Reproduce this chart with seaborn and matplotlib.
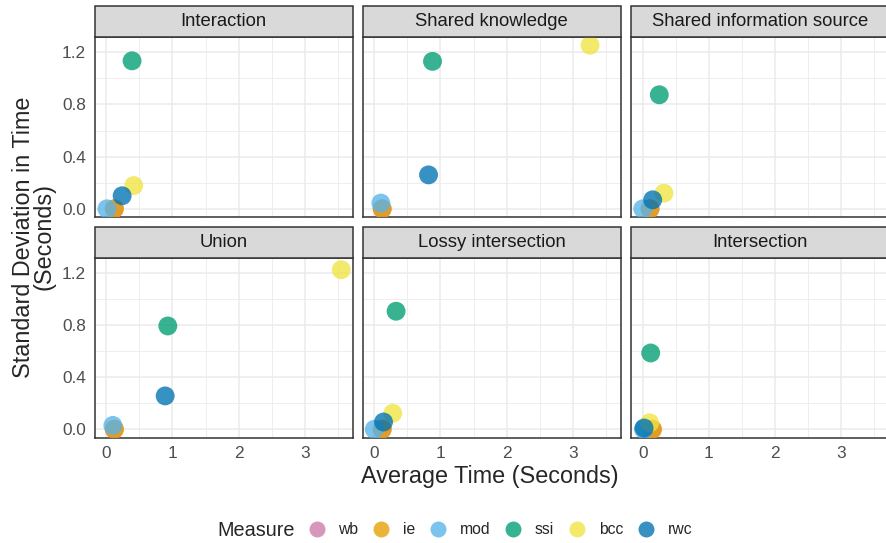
import matplotlib
matplotlib.use("Agg")
import matplotlib.pyplot as plt
from matplotlib.patches import Rectangle
from matplotlib.lines import Line2D
from matplotlib.ticker import MultipleLocator
import numpy as np
import pandas as pd
import seaborn as sns

# ---- data -------------------------------------------------------------
facets = ["Interaction", "Shared knowledge", "Shared information source",
          "Union", "Lossy intersection", "Intersection"]
measures = ["wb", "ie", "mod", "ssi", "bcc", "rwc"]
colors = ["#CC79A7", "#E69F00", "#56B4E9", "#009E73", "#F0E442", "#0072B2"]

# average time (s) per facet, one list per measure
wb_avg = [0.12, 0.12, 0.11, 0.12, 0.12, 0.14]
ie_avg = [0.125, 0.12, 0.11, 0.125, 0.12, 0.15]
mod_avg = [0.01, 0.10, 0.0, 0.10, 0.0, 0.01]
ssi_avg = [0.39, 0.88, 0.25, 0.93, 0.33, 0.12]
bcc_avg = [0.415, 3.26, 0.32, 3.55, 0.28, 0.105]
rwc_avg = [0.24, 0.82, 0.15, 0.89, 0.14, 0.02]

# standard deviation of time (s) per facet
wb_sd = [0.0, 0.0, 0.0, 0.0, 0.0, 0.0]
ie_sd = [0.0, 0.0, 0.0, 0.0, 0.0, 0.0]
mod_sd = [0.0, 0.044, 0.0, 0.03, 0.0, 0.0]
ssi_sd = [1.134, 1.13, 0.874, 0.792, 0.905, 0.585]
bcc_sd = [0.178, 1.254, 0.12, 1.223, 0.123, 0.05]
rwc_sd = [0.10, 0.26, 0.069, 0.256, 0.056, 0.01]

x_ticks = [0, 1, 2, 3]
y_ticks = [0.0, 0.4, 0.8, 1.2]

avg_lists = [wb_avg, ie_avg, mod_avg, ssi_avg, bcc_avg, rwc_avg]
sd_lists = [wb_sd, ie_sd, mod_sd, ssi_sd, bcc_sd, rwc_sd]
rows = []
for m, av, sd in zip(measures, avg_lists, sd_lists):
    for f, a, s in zip(facets, av, sd):
        rows.append({"Measure": m, "Facet": f, "avg": a, "sd": s})
df = pd.DataFrame(rows)

# ---- style ------------------------------------------------------------
sns.set_style("white")
plt.rcParams["font.family"] = ["Liberation Sans", "DejaVu Sans"]
palette = dict(zip(measures, colors))

W, H = 886, 543
fig = plt.figure(figsize=(W / 100, H / 100), dpi=100)

col_left = [94.5, 362.5, 631]
panel_w = 258.5
row_top = [37, 257.5]
panel_h = 180
strip_h = 30.5

def pad(lo, hi, frac=0.05):
    r = hi - lo
    return lo - frac * r, hi + frac * r

xlim = pad(df["avg"].min(), df["avg"].max())
ylim = pad(df["sd"].min(), df["sd"].max())

border = "#333333"
grid_c = "#EBEBEB"

for i, facet in enumerate(facets):
    r, c = divmod(i, 3)
    left = col_left[c] / W
    bottom = 1 - (row_top[r] + panel_h) / H
    ax = fig.add_axes([left, bottom, panel_w / W, panel_h / H])
    sub = df[df["Facet"] == facet]
    sns.scatterplot(data=sub, x="avg", y="sd", hue="Measure",
                    hue_order=measures, palette=palette, s=185,
                    alpha=0.78, linewidth=0, legend=False, ax=ax, zorder=3)
    ax.set_xlim(*xlim)
    ax.set_ylim(*ylim)
    ax.set_xticks(x_ticks)
    ax.set_yticks(y_ticks)
    ax.xaxis.set_minor_locator(MultipleLocator(0.5))
    ax.yaxis.set_minor_locator(MultipleLocator(0.2))
    ax.grid(True, which="major", color=grid_c, lw=1.1, zorder=0)
    ax.grid(True, which="minor", color=grid_c, lw=0.6, zorder=0)
    ax.set_axisbelow(True)
    for sp in ax.spines.values():
        sp.set_color(border)
        sp.set_linewidth(1.1)
    ax.tick_params(which="minor", length=0)
    ax.tick_params(which="major", length=3.8, width=0.9, color=border,
                   labelcolor="#4D4D4D", labelsize=12.4, pad=2.2)
    ax.set_xlabel("")
    ax.set_ylabel("")
    if c != 0:
        ax.tick_params(axis="y", length=0, labelleft=False)
    else:
        ax.set_yticklabels([f"{v:.1f}" for v in y_ticks])
    if r != 1:
        ax.tick_params(axis="x", length=0, labelbottom=False)
    # facet strip
    sh = strip_h / panel_h
    ax.add_patch(Rectangle((0, 1), 1, sh, transform=ax.transAxes,
                           facecolor="#D9D9D9", edgecolor=border, lw=1.1,
                           clip_on=False, zorder=5))
    ax.text(0.5, 1 + sh / 2, facet, transform=ax.transAxes, ha="center",
            va="center", fontsize=13.3, color="#1A1A1A", zorder=6)

# axis titles
fig.text(490 / W, 1 - 476 / H, "Average Time (Seconds)", ha="center",
         va="center", fontsize=16.8)
fig.text(34 / W, 1 - 237 / H, "Standard Deviation in Time\n(Seconds)",
         ha="center", va="center", rotation=90, fontsize=16.8,
         linespacing=0.88)

# legend
fig.text(217 / W, 1 - 530 / H, "Measure", ha="left", va="center",
         fontsize=14.3)
handles = [Line2D([], [], ls="", marker="o", markersize=11.5,
                  markerfacecolor=col, markeredgewidth=0, alpha=0.78)
           for col in colors]
fig.legend(handles, measures, loc="center left",
           bbox_to_anchor=(309 / W, 1 - 530 / H), ncol=6, frameon=False,
           fontsize=11.3, handlelength=1.0, handletextpad=0.86,
           columnspacing=0.98, borderaxespad=0, borderpad=0)

fig.savefig("out.png", dpi=100)
